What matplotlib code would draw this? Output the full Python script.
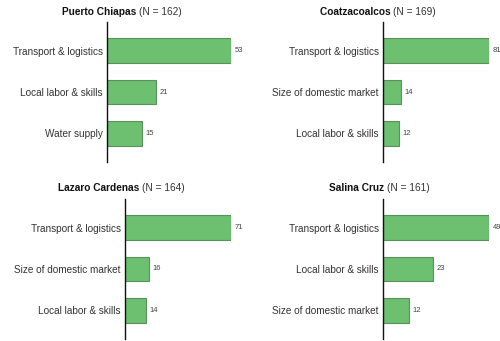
import matplotlib
matplotlib.use("Agg")
import matplotlib.pyplot as plt

plt.rcParams['font.family'] = ['Liberation Sans', 'DejaVu Sans']

# port survey: top reasons, one panel per port
ports = ["Puerto Chiapas", "Coatzacoalcos", "Lazaro Cardenas", "Salina Cruz"]
sample_n = [162, 169, 164, 161]
chiapas_labels = ["Transport & logistics", "Local labor & skills", "Water supply"]
chiapas_vals = [53, 21, 15]
coatza_labels = ["Transport & logistics", "Size of domestic market", "Local labor & skills"]
coatza_vals = [81, 14, 12]
lazaro_labels = ["Transport & logistics", "Size of domestic market", "Local labor & skills"]
lazaro_vals = [71, 16, 14]
salina_labels = ["Transport & logistics", "Local labor & skills", "Size of domestic market"]
salina_vals = [49, 23, 12]

panel_labels = [chiapas_labels, coatza_labels, lazaro_labels, salina_labels]
panel_vals = [chiapas_vals, coatza_vals, lazaro_vals, salina_vals]

W, H = 500, 341
fig = plt.figure(figsize=(W / 100, H / 100), dpi=100)

# axes boxes in pixels: left, right, top, bottom
boxes = [(107, 231, 22, 162), (383, 489, 22, 162),
         (125, 231, 199, 339), (383, 489, 199, 339)]
title_pos = [(122, 12), (378, 12), (121, 188), (379, 188)]

BAR = "#6cc070"
EDGE = "#5b8f5d"

renderer = fig.canvas.get_renderer()

for i in range(4):
    l, r, t, b = boxes[i]
    ax = fig.add_axes([l / W, 1 - b / H, (r - l) / W, (b - t) / H])
    vals = panel_vals[i]
    ypos = list(range(len(vals)))
    ax.barh(ypos, vals, height=0.6, color=BAR, edgecolor=EDGE, linewidth=0.8)
    ax.set_xlim(0, max(vals))
    ax.set_ylim(2.69, -0.69)
    ax.set_yticks(ypos)
    ax.set_yticklabels(panel_labels[i], fontsize=7.2, color="#333333")
    ax.tick_params(axis="y", length=0, pad=3)
    ax.set_xticks([])
    for s in ["top", "right", "bottom"]:
        ax.spines[s].set_visible(False)
    ax.spines["left"].set_linewidth(1.0)
    ax.spines["left"].set_color("#111111")
    for y, v in zip(ypos, vals):
        ax.annotate(str(v), (v, y), xytext=(2.5, 0), textcoords="offset points",
                    va="center", ha="left", fontsize=5.5, color="#444444",
                    annotation_clip=False)

    # title: bold port name, plain sample size, centred as one line
    cx, cy = title_pos[i]
    part1 = ports[i] + " "
    part2 = "(N = %d)" % sample_n[i]
    t1 = fig.text(0, 0, part1, fontsize=7.3, fontweight="bold", color="#111111")
    t2 = fig.text(0, 0, part2, fontsize=7.3, color="#333333")
    w1 = t1.get_window_extent(renderer).width
    w2 = t2.get_window_extent(renderer).width
    x0 = cx - (w1 + w2) / 2
    t1.set_position((x0 / W, 1 - cy / H))
    t1.set_va("center")
    t2.set_position(((x0 + w1) / W, 1 - cy / H))
    t2.set_va("center")

fig.savefig("out.png", dpi=100)
